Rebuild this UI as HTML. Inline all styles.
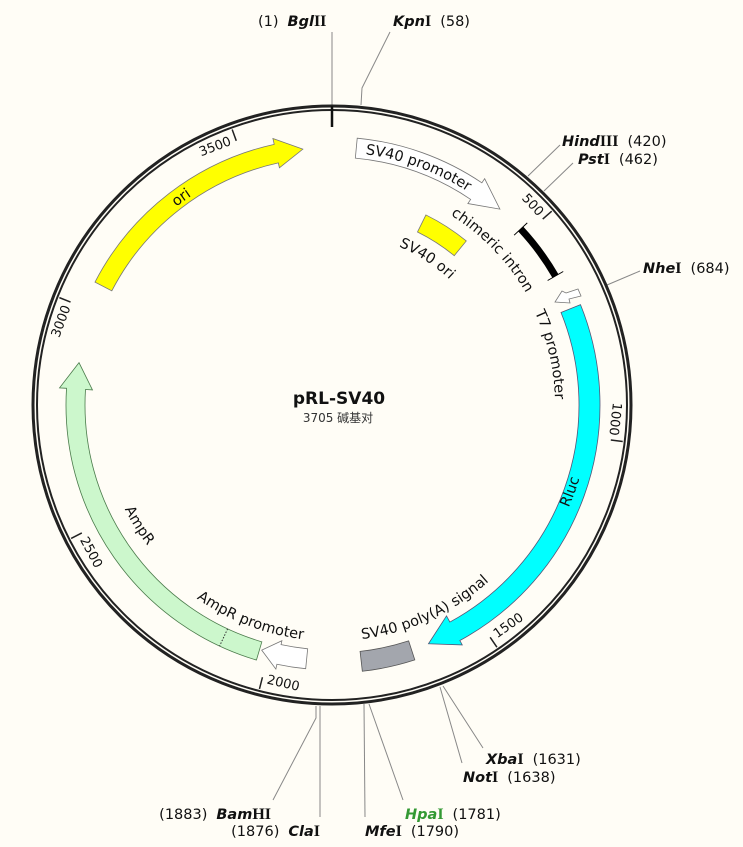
<!DOCTYPE html>
<html><head><meta charset="utf-8"><style>
html,body{margin:0;padding:0;background:#fffdf6;}
svg{display:block;font-family:"DejaVu Sans","Liberation Sans","Noto Sans CJK SC",sans-serif;}
.s{font-size:14.5px;fill:#111;}
.b{font-weight:bold;font-style:italic;}
.bb{font-weight:bold;font-family:"Liberation Serif","DejaVu Serif",serif;font-size:16px;}
.t{font-size:13px;fill:#111;}
.f{font-size:14.5px;fill:#111;}
</style></head><body>
<svg id="m" width="743" height="847" viewBox="0 0 743 847" xmlns="http://www.w3.org/2000/svg">
<rect width="743" height="847" fill="#fffdf6"/>
<g id="lines" stroke="#888" stroke-width="1" fill="none">
<polyline points="332,32 332,105"/>
<polyline points="390,32 362,88 361,105"/>
<polyline points="560,145 528,176"/>
<polyline points="573,163 544,191"/>
<polyline points="640,271 607,285"/>
<polyline points="483,748 443,686"/>
<polyline points="462,763 440,687"/>
<polyline points="403,800 369,704"/>
<polyline points="365,817 364,704"/>
<polyline points="320,817 320,706"/>
<polyline points="273,800 316,718 316,706"/>
</g>
<circle cx="332" cy="405" r="299" fill="none" stroke="#222" stroke-width="3"/>
<circle cx="332" cy="405" r="295" fill="none" stroke="#222" stroke-width="2"/>
<line x1="332" y1="106" x2="332" y2="127" stroke="#111" stroke-width="2.5"/>
<g id="ticks" stroke="#222" stroke-width="1.5"></g>
<path id="ori" fill="#ffff00" stroke="#777" stroke-width="0.8"/>
<path id="svp" fill="#ffffff" stroke="#777" stroke-width="0.8"/>
<path id="svo" fill="#ffff00" stroke="#777" stroke-width="0.8"/>
<path id="intr" fill="none" stroke="#000" stroke-width="7"/>
<path id="intt" fill="none" stroke="#000" stroke-width="1"/>
<polygon points="566,293 578,289 581,296 569,299 570,303 555,302 562,291" fill="#fff" stroke="#777" stroke-width="0.8"/>
<path id="rluc" fill="#00ffff" stroke="#557" stroke-width="0.8"/>
<path id="pa" fill="#a3a6ad" stroke="#555" stroke-width="0.8"/>
<path id="ampp" fill="#ffffff" stroke="#777" stroke-width="0.8"/>
<path id="amp" fill="#ccf7cc" stroke="#4a7a4a" stroke-width="0.8"/>
<path id="dot" fill="none" stroke="#333" stroke-width="1" stroke-dasharray="1.5,1.5"/>
<defs>
<path id="p_ori"/><path id="p_svp"/><path id="p_svo"/><path id="p_int"/><path id="p_t7"/>
<path id="p_rl"/><path id="p_pa"/><path id="p_ampp"/><path id="p_amp"/>
</defs>
<text class="f"><textPath href="#p_ori" startOffset="50%" text-anchor="middle">ori</textPath></text>
<text class="f"><textPath href="#p_svp" startOffset="50%" text-anchor="middle">SV40 promoter</textPath></text>
<text class="f"><textPath href="#p_svo" startOffset="50%" text-anchor="middle">SV40 ori</textPath></text>
<text class="f"><textPath href="#p_int" startOffset="50%" text-anchor="middle">chimeric intron</textPath></text>
<text class="f"><textPath href="#p_t7" startOffset="50%" text-anchor="middle">T7 promoter</textPath></text>
<text class="f"><textPath href="#p_rl" startOffset="50%" text-anchor="middle">Rluc</textPath></text>
<text class="f"><textPath href="#p_pa" startOffset="50%" text-anchor="middle">SV40 poly(A) signal</textPath></text>
<text class="f"><textPath href="#p_ampp" startOffset="50%" text-anchor="middle">AmpR promoter</textPath></text>
<text class="f"><textPath href="#p_amp" startOffset="50%" text-anchor="middle">AmpR</textPath></text>
<text class="t" x="332" y="126" text-anchor="end" transform="rotate(-21 332 405)">3500</text>
<text class="t" x="332" y="126" text-anchor="end" transform="rotate(-69.5 332 405)">3000</text>
<text class="t" x="332" y="126" text-anchor="end" transform="rotate(47.6 332 405)">500</text>
<text class="t" x="332" y="126" text-anchor="end" transform="rotate(96.2 332 405)">1000</text>
<text class="t" x="332" y="691" text-anchor="start" transform="rotate(-35.3 332 405)">1500</text>
<text class="t" x="332" y="691" text-anchor="start" transform="rotate(13.3 332 405)">2000</text>
<text class="t" x="332" y="691" text-anchor="start" transform="rotate(61.9 332 405)">2500</text>
<text x="339" y="404" text-anchor="middle" font-size="17" font-weight="bold" fill="#111">pRL-SV40</text>
<text x="338" y="422" text-anchor="middle" font-size="12" fill="#333">3705 碱基对</text>
<text class="s" x="258" y="26">(1)<tspan class="b" dx="9">Bgl</tspan><tspan class="bb">II</tspan></text>
<text class="s" x="393" y="26"><tspan class="b">Kpn</tspan><tspan class="bb">I</tspan><tspan dx="9">(58)</tspan></text>
<text class="s" x="562" y="146"><tspan class="b">Hind</tspan><tspan class="bb">III</tspan><tspan dx="9">(420)</tspan></text>
<text class="s" x="578" y="164"><tspan class="b">Pst</tspan><tspan class="bb">I</tspan><tspan dx="9">(462)</tspan></text>
<text class="s" x="643" y="273"><tspan class="b">Nhe</tspan><tspan class="bb">I</tspan><tspan dx="9">(684)</tspan></text>
<text class="s" x="486" y="764"><tspan class="b">Xba</tspan><tspan class="bb">I</tspan><tspan dx="9">(1631)</tspan></text>
<text class="s" x="463" y="782"><tspan class="b">Not</tspan><tspan class="bb">I</tspan><tspan dx="9">(1638)</tspan></text>
<text class="s" x="405" y="819"><tspan class="b" fill="#339933">Hpa</tspan><tspan class="bb" fill="#339933">I</tspan><tspan dx="9">(1781)</tspan></text>
<text class="s" x="365" y="836"><tspan class="b">Mfe</tspan><tspan class="bb">I</tspan><tspan dx="9">(1790)</tspan></text>
<text class="s" x="320" y="836" text-anchor="end">(1876)<tspan class="b" dx="9">Cla</tspan><tspan class="bb">I</tspan></text>
<text class="s" x="271" y="819" text-anchor="end">(1883)<tspan class="b" dx="9">Bam</tspan><tspan class="bb">HI</tspan></text>
</svg>
<script>
var cx=332,cy=405;
function P(r,a){var t=a*Math.PI/180;return [cx+r*Math.sin(t),cy-r*Math.cos(t)];}
function f(p){return p[0].toFixed(2)+' '+p[1].toFixed(2);}
function arc(r,a1,a2){var cw=a2>a1;var lg=Math.abs(a2-a1)>180?1:0;return 'M'+f(P(r,a1))+' A'+r+' '+r+' 0 '+lg+' '+(cw?1:0)+' '+f(P(r,a2));}
function arrow(a1,hb,tip,rin,rout,hin,hout){var cw=tip>a1,rm=(rin+rout)/2,lg=Math.abs(hb-a1)>180?1:0;
return 'M'+f(P(rout,a1))+' A'+rout+' '+rout+' 0 '+lg+' '+(cw?1:0)+' '+f(P(rout,hb))+' L'+f(P(hout,hb))+' L'+f(P(rm,tip))+' L'+f(P(hin,hb))+' L'+f(P(rin,hb))+' A'+rin+' '+rin+' 0 '+lg+' '+(cw?0:1)+' '+f(P(rin,a1))+' Z';}
function box(a1,a2,rin,rout){var lg=Math.abs(a2-a1)>180?1:0;return 'M'+f(P(rout,a1))+' A'+rout+' '+rout+' 0 '+lg+' 1 '+f(P(rout,a2))+' L'+f(P(rin,a2))+' A'+rin+' '+rin+' 0 '+lg+' 0 '+f(P(rin,a1))+' Z';}
function S(id,d){document.getElementById(id).setAttribute('d',d);}
S('ori',arrow(-62.6,-12.5,-6.5,248,267,243,273));
S('svp',arrow(5.4,34,40.6,248,268,243,273));
S('svo',box(26.3,39.3,193,212));
S('intr',arc(258,47,60));
S('intt','M'+f(P(249,47))+' L'+f(P(267,47))+' M'+f(P(249,60))+' L'+f(P(267,60)));
S('rluc',arrow(68,151.5,158,247,268,240,273));
S('pa',box(162,173.5,248,268));
S('ampp',arrow(185.7,192,196,245,265,241,270));
S('amp',arrow(196.5,273.6,279.5,247,266,240,273));
S('dot','M'+f(P(247,205))+' L'+f(P(266,205)));
S('p_ori',arc(252,-60,-12));
S('p_svp',arc(253,3,37));
S('p_svo',arc(172,13,53));
S('p_int',arc(224,25,67));
S('p_t7',arc(223,60,94));
S('p_rl',arc(258,130,90));
S('p_pa',arc(236,178,133));
S('p_ampp',arc(236,218,184));
S('p_amp',arc(232,255,221));
var g=document.getElementById('ticks'),d='';
for(var p=500;p<3705;p+=500){var a=p/3705*360;d+='M'+f(P(281,a))+' L'+f(P(293,a))+' ';}
var pe=document.createElementNS('http://www.w3.org/2000/svg','path');pe.setAttribute('d',d);g.appendChild(pe);
</script>
</body></html>
